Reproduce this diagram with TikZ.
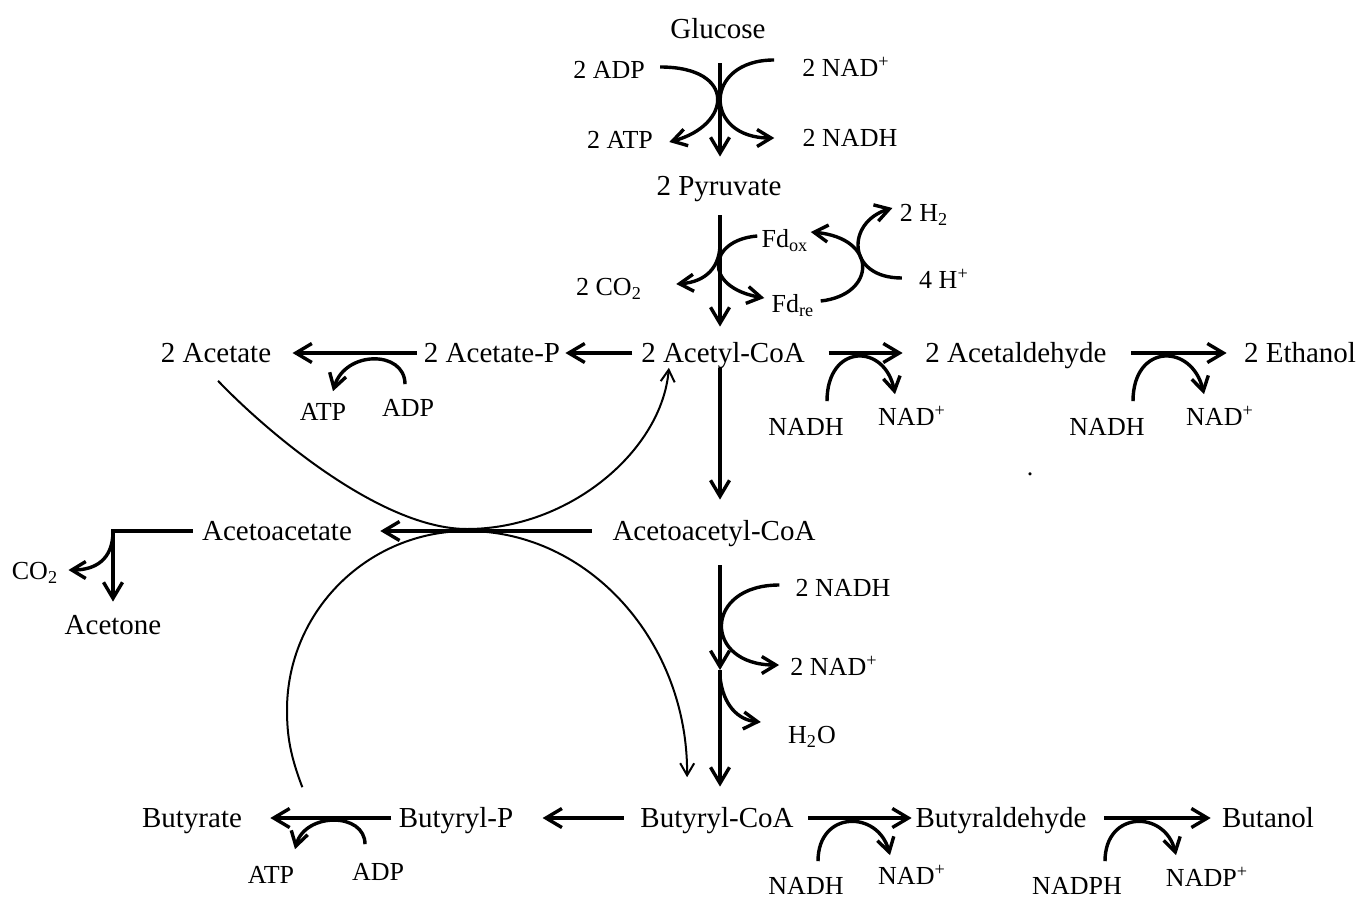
\documentclass[tikz,border=0pt]{standalone}
\usepackage{fontspec}
\setmainfont{Liberation Serif}
\usetikzlibrary{arrows.meta, calc}

\tikzset{
  met/.style={font=\fontsize{14.5}{17}\selectfont, inner sep=0pt, text height=11pt, text depth=1.4pt},
  cof/.style={font=\fontsize{13}{15}\selectfont, inner sep=0pt, text height=10pt, text depth=1.4pt},
  rxn/.style={line width=1.7pt, -{Straight Barb[length=8pt, width=9.5pt]}},
  cofarc/.style={line width=1.7pt, -{Straight Barb[length=7pt, width=8.5pt]}},
  shuttle/.style={line width=1pt, -{Straight Barb[length=6pt, width=7pt]}},
}

\begin{document}
\begin{tikzpicture}[x=0.5pt, y=-0.5pt]
  \useasboundingbox (0,0) rectangle (1369,899);
  % glycolysis
  \node[met] (glc) at (718,29) {Glucose};
  \node[cof] (adpA) at (609,70) {2 ADP};
  \node[cof] (nadA) at (846,68) {2 NAD\textsuperscript{+}};
  \node[cof] (atpA) at (620,140) {2 ATP};
  \node[cof] (nadhA) at (850,138) {2 NADH};
  \node[met] (pyr) at (719,186) {2 Pyruvate};
  % ferredoxin loop
  \node[cof] (htwo) at (924,213) {2 H\textsubscript{2}};
  \node[cof] (fdox) at (785,239) {Fd\textsubscript{ox}};
  \node[cof] (hplus) at (944,280) {4 H\textsuperscript{+}};
  \node[cof] (cotwo) at (609,287) {2 CO\textsubscript{2}};
  \node[cof] (fdre) at (793,304) {Fd\textsubscript{re}};
  % acetyl-CoA row
  \node[met] (ac) at (216,353) {2 Acetate};
  \node[met] (acp) at (492,353) {2 Acetate-P};
  \node[met] (accoa) at (723,353) {2 Acetyl-CoA};
  \node[met] (ald) at (1016,353) {2 Acetaldehyde};
  \node[met] (eth) at (1300,353) {2 Ethanol};
  \node[cof] (atpB) at (323,412) {ATP};
  \node[cof] (adpB) at (408,408) {ADP};
  \node[cof] (nadhB) at (806,427) {NADH};
  \node[cof] (nadB) at (912,417) {NAD\textsuperscript{+}};
  \node[cof] (nadhC) at (1107,427) {NADH};
  \node[cof] (nadC) at (1220,417) {NAD\textsuperscript{+}};
  \node[cof] (stray) at (1030,467) {.};
  % acetoacetyl-CoA row
  \node[met] (aca) at (277,531) {Acetoacetate};
  \node[met] (acac) at (714,531) {Acetoacetyl-CoA};
  \node[cof] (cooA) at (35,571) {CO\textsubscript{2}};
  \node[met] (acn) at (113,625) {Acetone};
  \node[cof] (nadhD) at (843,588) {2 NADH};
  \node[cof] (nadD) at (834,667) {2 NAD\textsuperscript{+}};
  \node[cof] (water) at (812,735) {H\textsubscript{2}O};
  \coordinate (mid) at (720,670);
  % butyryl-CoA row
  \node[met] (but) at (192,818) {Butyrate};
  \node[met] (bup) at (456,818) {Butyryl-P};
  \node[met] (bucoa) at (717,818) {Butyryl-CoA};
  \node[met] (bal) at (1001,818) {Butyraldehyde};
  \node[met] (buol) at (1268,818) {Butanol};
  \node[cof] (atpC) at (271,875) {ATP};
  \node[cof] (adpC) at (378,872) {ADP};
  \node[cof] (nadhE) at (806,886) {NADH};
  \node[cof] (nadE) at (912,876) {NAD\textsuperscript{+}};
  \node[cof] (nadphE) at (1077,886) {NADPH};
  \node[cof] (nadpE) at (1207,878) {NADP\textsuperscript{+}};

  % main line
  \draw[rxn, shorten <=10.8pt, shorten >=8.3pt] (glc.south -| mid) -- (pyr.north -| mid);
  \draw[rxn, shorten <=8.3pt, shorten >=6.8pt] (pyr.south -| mid) -- (accoa.north -| mid);
  \draw[rxn, shorten <=1.3pt, shorten >=9.3pt] (accoa.south -| mid) -- (acac.north -| mid);
  \draw[rxn, shorten <=10.8pt] (acac.south -| mid) -- (mid);
  \draw[rxn, shorten >=9.3pt] (mid) -- (bucoa.north -| mid);
  % side branches
  \draw[rxn, shorten <=4.2pt, shorten >=2.5pt] (accoa) -- (acp);
  \draw[rxn, shorten <=3.5pt, shorten >=10.5pt] (acp) -- (ac);
  \draw[rxn, shorten <=11.7pt, shorten >=11.2pt] (accoa) -- (ald);
  \draw[rxn, shorten <=12.2pt, shorten >=8.5pt] (ald) -- (eth);
  \draw[rxn, shorten <=10.2pt, shorten >=14pt] (acac) -- (aca);
  \draw[rxn, shorten <=4.5pt, shorten >=5.3pt] (aca) -| (acn);
  \draw[rxn, shorten <=8.2pt, shorten >=14.5pt] (bucoa) -- (bup);
  \draw[rxn, shorten <=3.5pt, shorten >=14pt] (bup) -- (but);
  \draw[rxn, shorten <=7.2pt, shorten >=1.8pt] (bucoa) -- (bal);
  \draw[rxn, shorten <=8.7pt, shorten >=5.5pt] (bal) -- (buol);

  % cofactor arcs
  \draw[cofarc] ([shift={(15,-3)}]adpA.east) .. controls (737,67) and (732,125) .. ([shift={(16,2)}]atpA.east);
  \draw[cofarc] ([shift={(-28,-8)}]nadA.west) .. controls (703,60) and (703,138) .. ([shift={(-28,0)}]nadhA.west);
  \draw[cofarc] ([yshift=-21pt]pyr.south -| mid) .. controls (721,268) and (705,282) .. ([shift={(34,-3)}]cotwo.east);
  \draw[cofarc] ([shift={(-4,-3)}]fdox.west) .. controls (708,240) and (702,287) .. ([shift={(-7,-6)}]fdre.west);
  \draw[cofarc] ([shift={(6,-3)}]fdre.east) .. controls (876,295) and (879,238) .. ([shift={(2,-7)}]fdox.east);
  \draw[cofarc] ([shift={(-17,-2)}]hplus.west) .. controls (846,278) and (846,222) .. ([shift={(-7,-5)}]htwo.west);
  \draw[cofarc] ([shift={(-3,-12)}]adpB.north) .. controls (405,350) and (345,350) .. ([shift={(10,-9)}]atpB.north);
  \draw[cofarc] ([shift={(21,-14)}]nadhB.north) .. controls (827,343) and (885,343) .. ([shift={(-17,-11)}]nadB.north);
  \draw[cofarc] ([shift={(26,-14)}]nadhC.north) .. controls (1133,343) and (1192,343) .. ([shift={(-16,-11)}]nadC.north);
  \draw[cofarc] (acn |- aca) .. controls (113,560) and (95,570) .. ([shift={(10,-1)}]cooA.east);
  \draw[cofarc] ([shift={(-16,-3)}]nadhD.west) .. controls (703,585) and (703,665) .. ([shift={(-11,-2)}]nadD.west);
  \draw[cofarc] ([yshift=-3.5pt]mid) .. controls (723,705) and (738,720) .. ([shift={(-27,-13)}]water.west);
  \draw[cofarc] ([shift={(-13,-16)}]adpC.north) .. controls (365,812) and (305,812) .. ([shift={(24,-14)}]atpC.north);
  \draw[cofarc] ([shift={(12,-13)}]nadhE.north) .. controls (818,810) and (878,810) .. ([shift={(-22,-9)}]nadE.north);
  \draw[cofarc] ([shift={(28,-13)}]nadphE.north) .. controls (1105,810) and (1165,810) .. ([shift={(-31,-11)}]nadpE.north);

  % CoA transfer
  \draw[shuttle] ([shift={(2,15)}]ac.south) .. controls (265,430) and (380,529) .. (467,529)
    .. controls (570,529) and (662,450) .. ([shift={(28,2)}]accoa.south west);
  \draw[shuttle] ([shift={(60,-18)}]but.north east) .. controls (290,755) and (287,735) .. (287,710)
    .. controls (287,611) and (368,531) .. (467,531)
    .. controls (589,531) and (688,642) .. ([shift={(47,-28)}]bucoa.north west);
\end{tikzpicture}
\end{document}
